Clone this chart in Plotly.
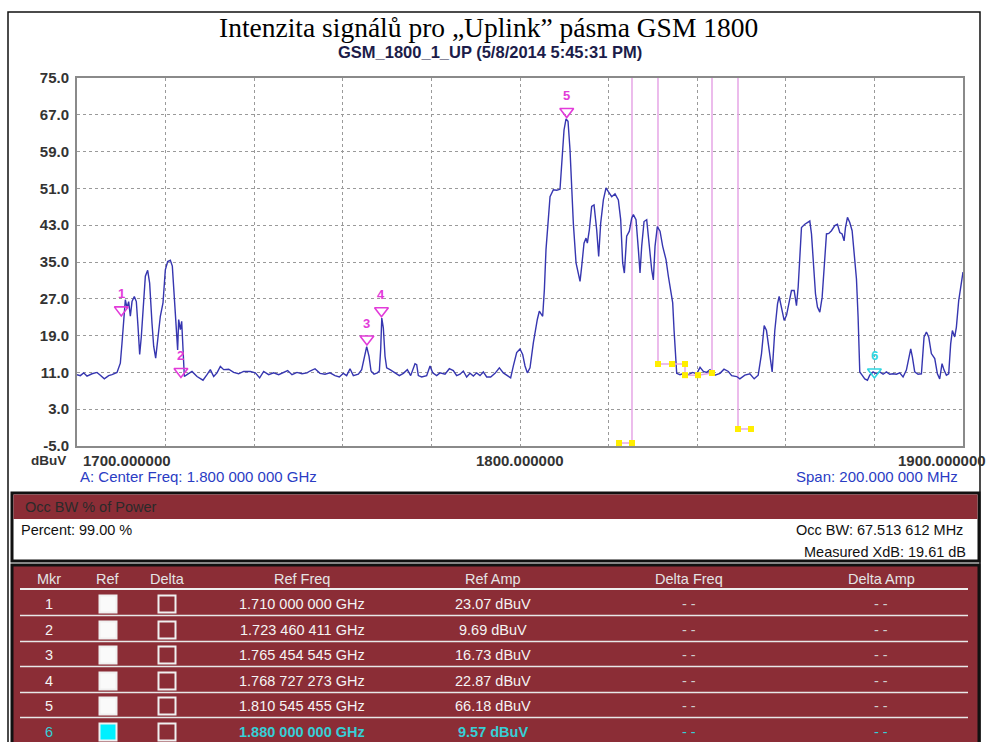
import plotly.graph_objects as go

# ---------------- data ----------------
freq_mhz = [
    1700.0, 1700.75, 1701.5, 1702.26, 1703.39, 1704.51, 1705.27, 1706.17, 1707.15, 1707.9,
    1709.03, 1709.78, 1710.16, 1710.53, 1710.91, 1711.29, 1711.66, 1712.04, 1712.42, 1712.94,
    1713.39, 1713.77, 1714.15, 1714.52, 1714.9, 1715.43, 1715.95, 1716.4, 1716.93, 1717.31,
    1717.76, 1718.21, 1718.81, 1719.41, 1719.94, 1720.47, 1721.07, 1721.52, 1721.97, 1722.35,
    1722.72, 1722.95, 1723.33, 1723.63, 1723.93, 1724.23, 1724.83, 1725.96, 1727.09, 1728.44,
    1729.35, 1730.1, 1730.85, 1731.6, 1732.36, 1733.11, 1734.24, 1735.36, 1736.49, 1737.62,
    1739.13, 1740.26, 1741.23, 1742.14, 1743.26, 1744.39, 1745.52, 1746.65, 1747.55, 1748.53,
    1749.66, 1750.79, 1751.92,
    1752.6, 1753.73, 1754.85, 1755.98, 1757.11, 1758.24, 1759.22, 1760.12, 1760.87, 1761.63,
    1762.38, 1763.51, 1764.26, 1764.79, 1765.39, 1765.92, 1766.37, 1767.04, 1767.8, 1768.25,
    1768.55, 1768.8, 1769.15, 1769.53, 1769.9, 1770.66, 1771.78, 1772.76, 1773.67, 1774.57,
    1775.32, 1776.3, 1776.68, 1777.05, 1777.8, 1778.93, 1779.69, 1780.29, 1781.19, 1781.94,
    1783.07, 1784.05, 1784.95, 1785.7, 1786.46, 1787.21, 1787.96, 1788.71, 1789.47, 1790.22,
    1790.97, 1791.72, 1792.48, 1793.38, 1794.36, 1795.34, 1796.24, 1797.14, 1797.89, 1798.5,
    1799.25, 1800.0, 1800.6, 1801.13, 1801.66, 1802.26, 1803.01, 1803.91, 1804.36,
    1805.12, 1805.5, 1805.87, 1806.4, 1806.78, 1807.53, 1808.28, 1809.03, 1809.41, 1809.94,
    1810.39, 1810.84, 1811.29, 1811.67, 1812.04, 1812.65, 1813.17, 1813.55, 1813.92, 1814.45,
    1814.9, 1815.2, 1815.65, 1816.18, 1816.71, 1817.31, 1817.76, 1818.21, 1818.82, 1819.42,
    1819.94, 1820.7, 1821.45, 1822.2, 1822.73, 1823.18, 1823.56, 1824.08, 1824.68, 1825.21,
    1825.59, 1826.19, 1826.72, 1827.09, 1827.47, 1828.0, 1828.6, 1829.2, 1829.73, 1830.1,
    1830.48, 1831.0, 1831.61, 1832.21, 1832.96, 1833.49, 1834.01, 1834.47, 1834.77, 1835.07,
    1835.37, 1836.12, 1837.02, 1838.0, 1838.98, 1839.88, 1840.64, 1841.39, 1842.14, 1842.89,
    1844.02, 1845.15, 1846.05, 1847.03, 1847.78, 1848.91,
    1849.63, 1850.76, 1851.89, 1852.86, 1853.77, 1854.52, 1855.12, 1855.64, 1856.17, 1856.92,
    1857.52, 1858.13, 1858.5, 1859.03, 1859.63, 1860.16, 1860.68, 1861.28, 1861.89, 1862.41,
    1862.79, 1863.16, 1863.54, 1864.29, 1865.04, 1865.42, 1865.8, 1866.17, 1866.7, 1867.15,
    1867.68, 1868.2, 1868.8, 1869.18, 1869.71, 1870.31, 1871.06, 1871.66, 1872.19, 1872.71,
    1873.16, 1873.47, 1873.92, 1874.44, 1874.97, 1875.57, 1875.95, 1876.32, 1876.7, 1877.22,
    1877.83, 1878.43, 1878.95, 1879.7, 1880.46, 1881.21, 1881.96, 1882.71, 1883.46, 1884.22,
    1884.97, 1885.72, 1886.47, 1887.22, 1887.75, 1888.2, 1888.58, 1889.1, 1889.86, 1890.61,
    1891.21, 1891.74, 1892.26, 1892.86, 1893.62, 1894.22, 1894.74, 1895.27, 1895.72, 1896.25,
    1896.77, 1897.22, 1897.6, 1898.13, 1898.5, 1899.03, 1899.48, 1899.86, 1900.0,
]
level_dbuv = [
    10.5, 10.3, 10.9, 10.2, 10.7, 11.0, 10.4, 9.6, 10.3, 10.5,
    11.0, 13.0, 17.4, 23.2, 26.8, 25.0, 26.4, 23.2, 26.4, 27.5,
    26.4, 21.0, 14.9, 18.8, 25.4, 31.9, 33.2, 30.4, 21.7, 16.7,
    14.1, 18.1, 23.2, 26.1, 33.3, 35.1, 35.4, 34.1, 27.5, 21.0,
    15.9, 22.5, 20.3, 22.1, 15.9, 10.1, 10.5, 11.2, 10.1, 9.3,
    10.5, 11.6, 10.1, 10.9, 12.3, 11.6, 11.7, 11.0, 10.7, 11.2,
    11.2, 10.9, 9.8, 11.2, 10.5, 10.9, 10.5, 11.0, 11.4, 10.5,
    11.0, 10.7, 10.9,
    11.3, 11.8, 10.8, 10.6, 10.9, 10.3, 10.0, 10.8, 10.3, 11.8,
    10.3, 10.6, 11.6, 14.2, 16.6, 14.5, 11.3, 10.6, 10.9, 11.3,
    16.0, 22.8, 20.7, 14.5, 12.0, 11.6, 10.9, 10.3, 10.8, 11.6,
    10.3, 12.9, 12.7, 10.3, 10.0, 10.3, 12.4, 10.9, 10.3, 10.9,
    10.6, 11.8, 11.4, 10.3, 10.6, 11.3, 10.0, 10.8, 10.2, 10.9,
    10.3, 11.1, 10.0, 10.0, 10.8, 12.0, 10.9, 10.3, 9.8, 12.4,
    15.3, 16.1, 14.9, 12.4, 10.9, 12.0, 17.4, 22.5, 24.3,
    23.2, 29.0, 37.7, 44.9, 49.2, 50.7, 50.6, 50.8, 55.8, 63.7,
    66.1, 65.6, 59.4, 50.7, 43.4, 34.8, 32.2, 30.8, 34.0, 39.1,
    40.2, 39.1, 42.0, 47.1, 47.4, 42.0, 36.2, 43.4, 48.5, 51.1,
    50.3, 49.2, 49.8, 48.5, 44.2, 34.8, 32.6, 40.6, 41.7, 44.5,
    45.3, 44.2, 37.7, 32.6, 38.4, 43.8, 44.2, 37.7, 33.3, 31.1,
    38.4, 42.7, 41.7, 38.4, 35.5, 31.9, 29.0, 26.1, 20.3, 15.2,
    10.8, 10.5, 10.8, 10.5, 11.0, 10.7, 12.1, 11.2, 11.0, 11.6,
    10.4, 10.8, 11.7, 11.2, 10.3, 10.1,
    9.6, 10.4, 10.7, 9.6, 10.4, 15.1, 21.2, 20.1, 16.5, 11.1,
    20.1, 25.9, 27.5, 25.2, 22.3, 23.4, 26.2, 28.8, 28.8, 25.5,
    29.5, 36.0, 42.5, 43.2, 43.6, 43.9, 41.1, 36.0, 28.1, 25.2,
    24.1, 27.3, 36.0, 41.1, 41.2, 41.8, 42.9, 43.2, 41.4, 41.1,
    39.6, 42.5, 44.7, 43.6, 41.8, 36.0, 31.3, 23.0, 11.1, 10.4,
    9.6, 9.3, 10.4, 11.1, 10.7, 11.1, 10.6, 11.1, 10.6, 10.7,
    10.6, 10.9, 10.0, 11.5, 14.3, 16.1, 14.3, 11.1, 10.6, 10.7,
    18.7, 19.8, 18.7, 15.1, 14.0, 10.7, 9.6, 12.9, 11.5, 10.4,
    10.7, 17.2, 20.1, 18.7, 20.8, 26.6, 29.5, 32.4, 32.8,
]

# markers (from the marker table)
marker_ids = ["1", "2", "3", "4", "5", "6"]
marker_freq = [1710.0, 1723.46, 1765.45, 1768.73, 1810.55, 1880.0]
marker_amp = [23.07, 9.69, 16.73, 22.87, 66.18, 9.57]
ref_freq_text = ["1.710 000 000 GHz", "1.723 460 411 GHz", "1.765 454 545 GHz",
                 "1.768 727 273 GHz", "1.810 545 455 GHz", "1.880 000 000 GHz"]
ref_amp_text = ["23.07 dBuV", "9.69 dBuV", "16.73 dBuV", "22.87 dBuV", "66.18 dBuV", "9.57 dBuV"]
delta_freq_text = ["- -"] * 6
delta_amp_text = ["- -"] * 6
table_headers = ["Mkr", "Ref", "Delta", "Ref Freq", "Ref Amp", "Delta Freq", "Delta Amp"]

# occupied bandwidth cursors
obw_line_x = [1825.28, 1831.15, 1843.34, 1849.21]
obw_line_bottom = [-4.35, 12.83, 10.87, -1.3]
obw_groups_x = [[1822.35, 1825.28],
                [1831.15, 1834.31, 1837.25, 1837.25, 1840.18, 1843.34],
                [1849.21, 1852.14]]
obw_groups_y = [[-4.35, -4.35],
                [12.83, 12.83, 12.83, 10.4, 10.4, 10.87],
                [-1.3, -1.3]]

y_ticks = [75, 67, 59, 51, 43, 35, 27, 19, 11, 3, -5]
x_range = [1700, 1900]
x_tick_labels = ["1700.000000", "1800.000000", "1900.000000"]

# ---------------- geometry helpers (pixel -> paper) ----------------
W, H = 986, 742
L, R, T, B = 77, 963, 78, 446


def PX(p):
    return (p - L) / (R - L)


def PY(p):
    return (B - p) / (B - T)


SANS = "Liberation Sans, Arial, sans-serif"
SERIF = "Liberation Serif, Times New Roman, serif"
PINK = "#e6a6e6"
MAG = "#e23bd9"
CYAN = "#2fd6e0"
RED = "#8b2d36"

fig = go.Figure()

# OBW vertical cursor lines
vx, vy = [], []
for x, yb in zip(obw_line_x, obw_line_bottom):
    vx += [x, x, None]
    vy += [y_ticks[0], yb, None]
fig.add_trace(go.Scatter(x=vx, y=vy, mode="lines", line=dict(color=PINK, width=1.5),
                         hoverinfo="skip"))

# spectrum trace
fig.add_trace(go.Scatter(x=freq_mhz, y=level_dbuv, mode="lines",
                         line=dict(color="#3636b0", width=1.4)))

# OBW bracket segments
for gx, gy in zip(obw_groups_x, obw_groups_y):
    fig.add_trace(go.Scatter(x=gx, y=gy, mode="lines+markers",
                             line=dict(color=PINK, width=1.5),
                             marker=dict(symbol="square", size=6, color="#ffee00",
                                         line=dict(width=0)),
                             hoverinfo="skip"))

# markers (triangle pointing down, standing off above the point)
mcolors = [MAG] * 5 + [CYAN]
fig.add_trace(go.Scatter(x=marker_freq, y=marker_amp, mode="markers",
                         marker=dict(symbol="triangle-up-open", size=12, color=mcolors,
                                     angle=180, standoff=7,
                                     line=dict(width=1.6, color=mcolors))))

annotations = []
for mid, mf, ma, c in zip(marker_ids, marker_freq, marker_amp, mcolors):
    annotations.append(dict(x=mf, y=ma, xref="x", yref="y", text=mid, showarrow=False,
                            yshift=23, font=dict(family=SANS, size=13, color=c, weight="bold")))


def ann(text, px, py, size=15, color="#000", family=SANS, xanchor="center", bold=False):
    annotations.append(dict(text=text, x=PX(px), y=PY(py), xref="paper", yref="paper",
                            showarrow=False, xanchor=xanchor, yanchor="middle", borderpad=0,
                            font=dict(family=family, size=size, color=color,
                                      weight="bold" if bold else "normal")))


# titles
ann("Intenzita signálů pro „Uplink” pásma GSM 1800", 488, 27, size=27.5, family=SERIF)
ann("GSM_1800_1_UP (5/8/2014 5:45:31 PM)", 490, 51.5, size=16.5, color="#1c1c4a", bold=True)

# axis texts
ann("dBuV", 48, 461, size=13.5, color="#333", bold=True)
ann(x_tick_labels[0], 82, 460, size=15, color="#333", bold=True, xanchor="left")
ann(x_tick_labels[1], 520, 460, size=15, color="#333", bold=True)
ann(x_tick_labels[2], 897, 460, size=15, color="#333", bold=True, xanchor="left")
ann("A: Center Freq: 1.800 000 000 GHz", 79, 476, size=15, color="#2a3cc4", xanchor="left")
ann("Span: 200.000 000 MHz", 959, 476, size=15, color="#2a3cc4", xanchor="right")

shapes = []


def rect(x0, y0, x1, y1, fill=None, line_color="black", width=1.0):
    shapes.append(dict(type="rect", xref="paper", yref="paper",
                       x0=PX(x0), x1=PX(x1), y0=PY(y0), y1=PY(y1),
                       fillcolor=fill if fill else "rgba(0,0,0,0)",
                       line=dict(color=line_color, width=width)))


def hline(x0, x1, y, color, width=1.5):
    shapes.append(dict(type="line", xref="paper", yref="paper",
                       x0=PX(x0), x1=PX(x1), y0=PY(y), y1=PY(y),
                       line=dict(color=color, width=width)))


# outer frame
rect(8, 12, 980, 760, line_color="#111", width=1.5)

# Occ BW box
rect(12, 493, 979, 561, fill="white", line_color="#111", width=3)
rect(13.5, 494.5, 977.5, 519, fill=RED, line_color=RED, width=0)
ann("Occ BW % of Power", 24, 507, size=14.5, color="#2a2a2a", xanchor="left")
ann("Percent: 99.00 %", 20, 530, size=14.5, color="#111", xanchor="left")
ann("Occ BW: 67.513 612 MHz", 964, 530, size=14.5, color="#111", xanchor="right")
ann("Measured XdB: 19.61 dB", 967, 552, size=14.5, color="#111", xanchor="right")

# marker table
rect(12, 565, 979, 760, fill=RED, line_color="#111", width=3)
col_x = [49, 108, 167, 302, 493, 689, 881]
for h, cx in zip(table_headers, col_x):
    ann(h, cx, 579, size=14.5, color="#e4e4e4")
hline(20, 968, 589, "#eeeeee", 2)
row_y = [604, 630, 655, 681, 706, 732]
for i, ry in enumerate(row_y):
    sel = i == len(row_y) - 1
    tc = "#36cfd6" if sel else "#f4f4f4"
    ann(marker_ids[i], col_x[0], ry, size=14.5, color=tc)
    ann(ref_freq_text[i], col_x[3], ry, size=14.5, color=tc, bold=sel)
    ann(ref_amp_text[i], col_x[4], ry, size=14.5, color=tc, bold=sel)
    ann(delta_freq_text[i], col_x[5], ry, size=14.5, color="#36cfd6" if sel else "#cfcfcf")
    ann(delta_amp_text[i], col_x[6], ry, size=14.5, color="#36cfd6" if sel else "#cfcfcf")
    rect(col_x[1] - 8.5, ry - 8.5, col_x[1] + 8.5, ry + 8.5,
         fill="#00f0ff" if sel else "#fafafa", line_color="#f0f0f0", width=2)
    rect(col_x[2] - 8.5, ry - 8.5, col_x[2] + 8.5, ry + 8.5, fill=None, line_color="#f0f0f0", width=2)
    if i < len(row_y) - 1:
        hline(20, 968, ry + 11.5, "#e8e8e8", 1.5)

fig.update_layout(
    width=W, height=H,
    margin=dict(l=L, r=W - R, t=T, b=H - B, pad=0),
    paper_bgcolor="white", plot_bgcolor="white",
    showlegend=False,
    annotations=annotations,
    shapes=shapes,
    xaxis=dict(range=x_range, dtick=20, tick0=1700, showticklabels=False, ticks="",
               showgrid=True, gridcolor="#9a9a9a", griddash="dot", gridwidth=1,
               showline=True, mirror=True, linecolor="#8a8a8a", linewidth=2, zeroline=False),
    yaxis=dict(range=[y_ticks[-1], y_ticks[0]], tickvals=y_ticks,
               ticktext=[f"{v:.1f}" for v in y_ticks], ticks="",
               tickfont=dict(family=SANS, size=15, color="#333", weight="bold"),
               ticklabelstandoff=3,
               showgrid=True, gridcolor="#9a9a9a", griddash="dot", gridwidth=1,
               showline=True, mirror=True, linecolor="#8a8a8a", linewidth=2, zeroline=False),
)

fig.write_html("out.html", config={"displayModeBar": False},
               post_script="document.body.style.margin='0';document.body.style.overflow='hidden';")
